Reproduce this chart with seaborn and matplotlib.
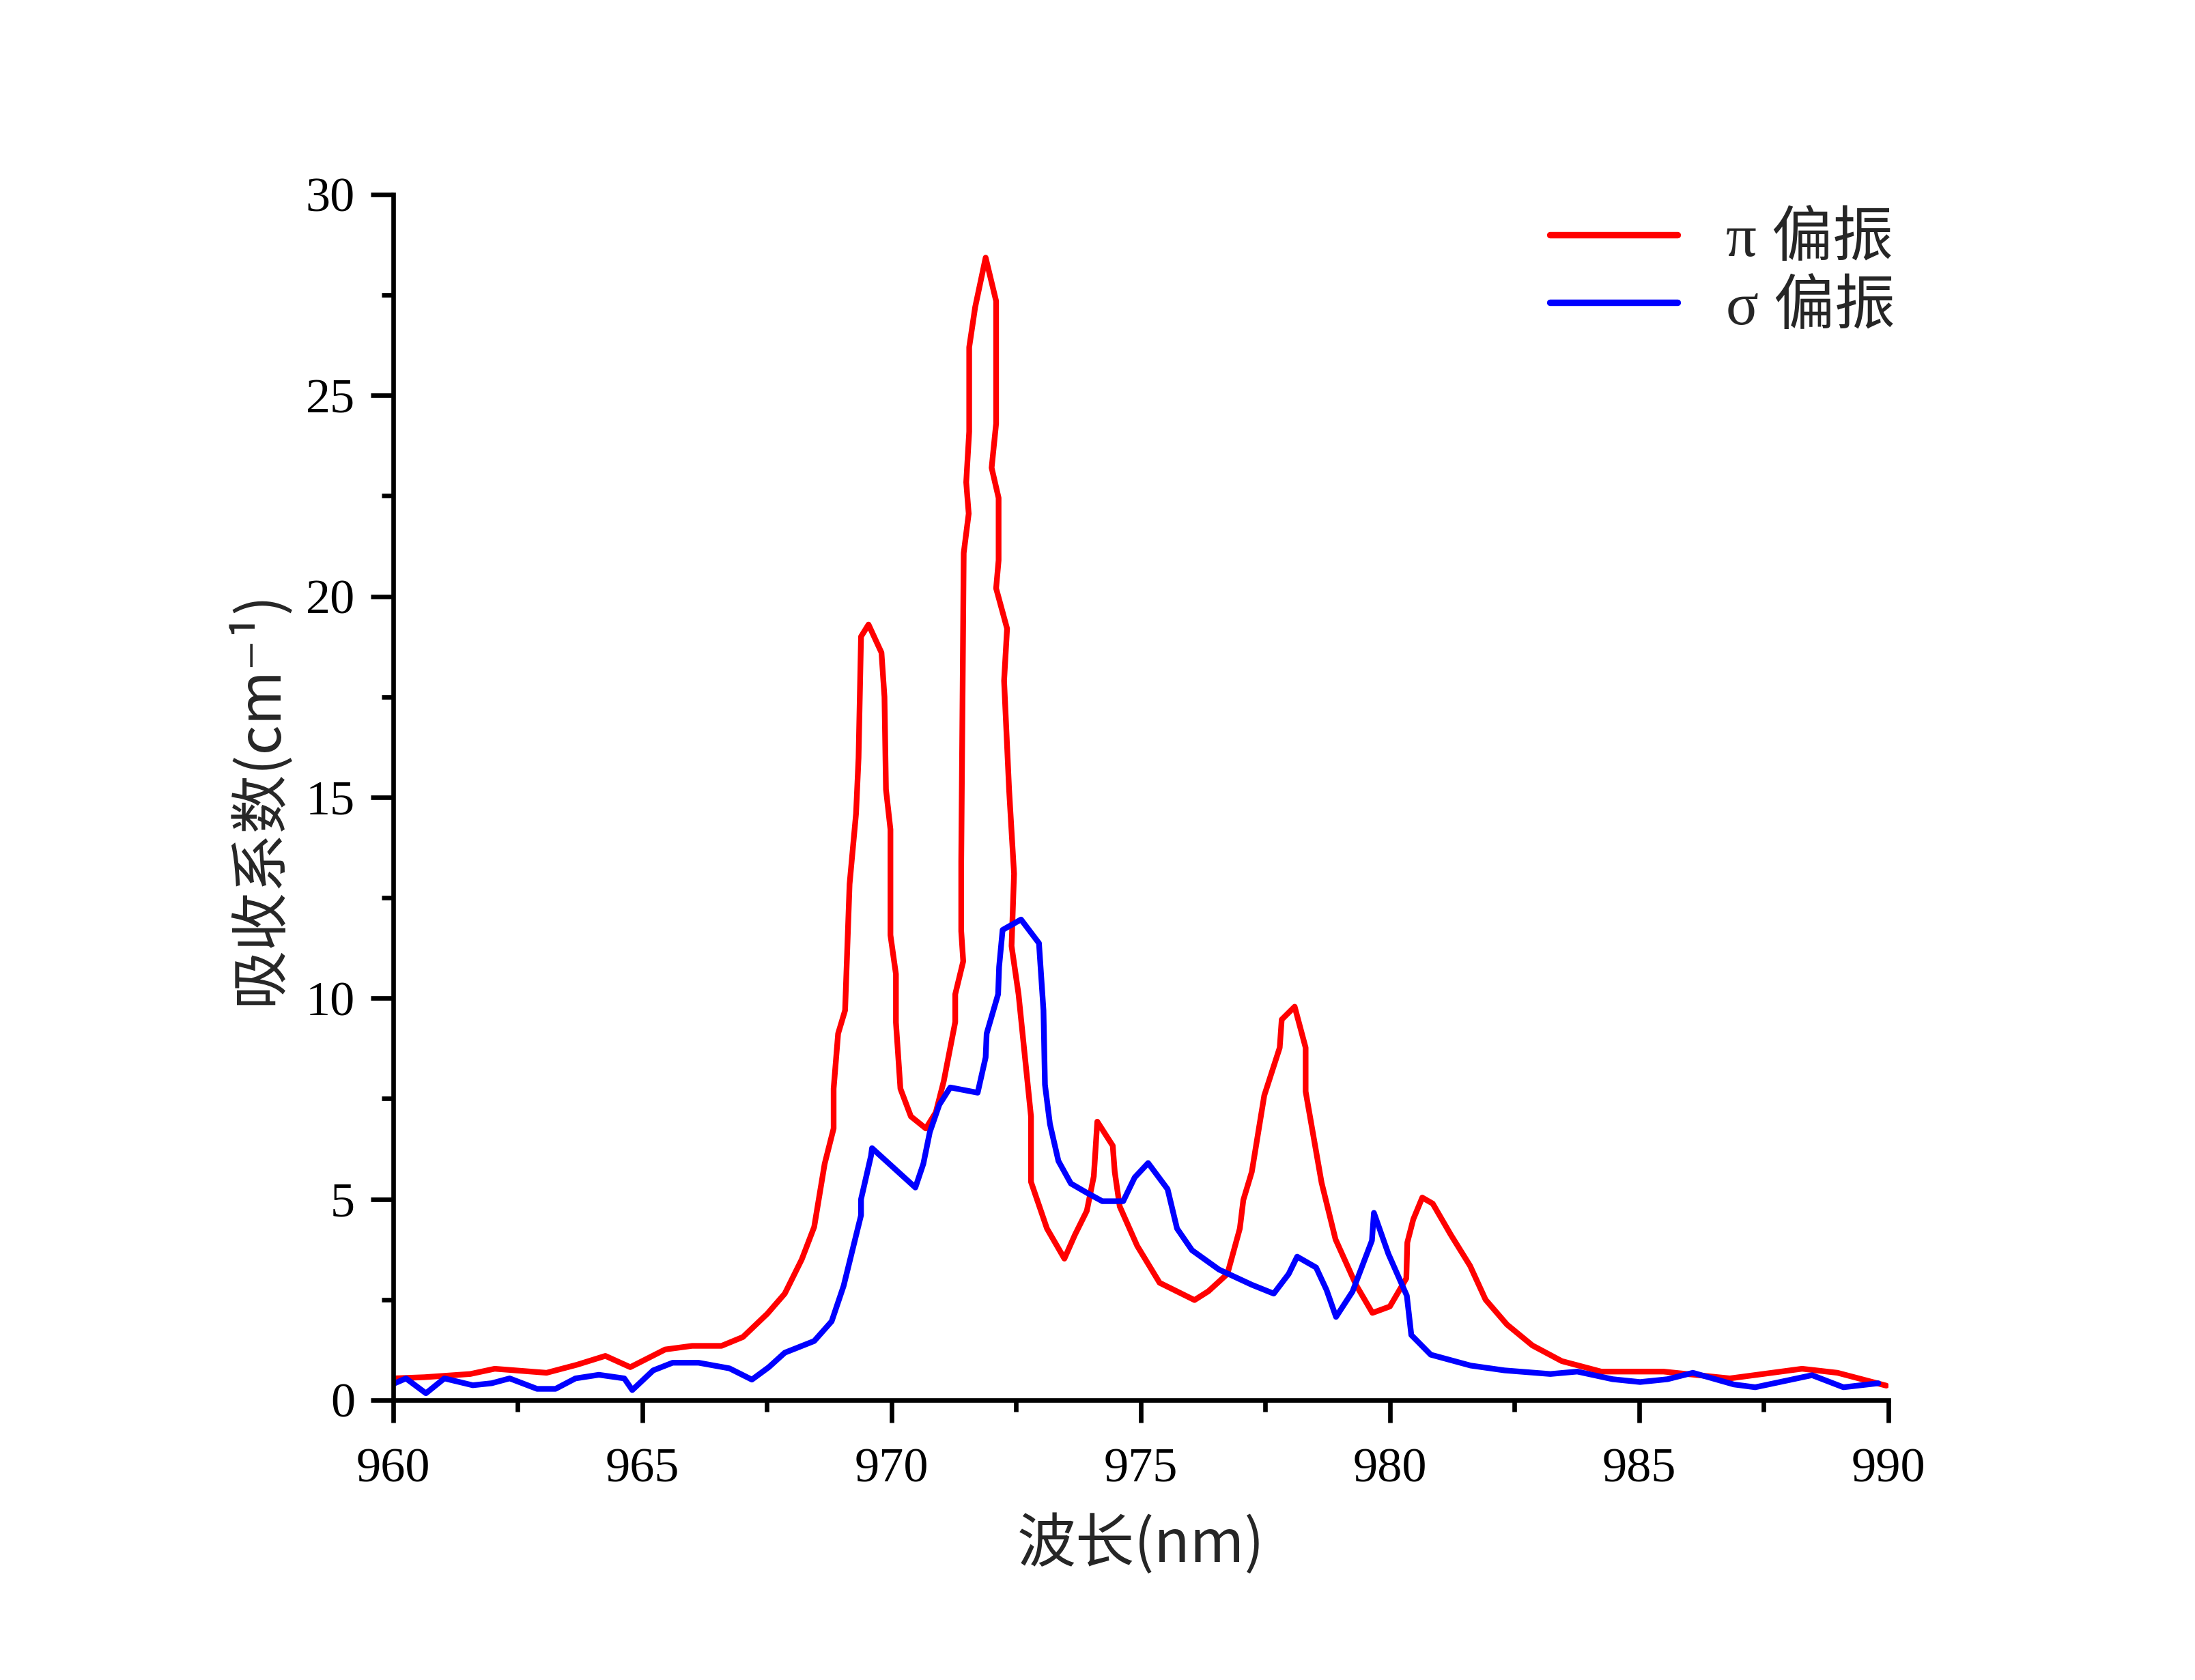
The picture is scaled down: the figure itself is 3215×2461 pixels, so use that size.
import matplotlib
matplotlib.use("Agg")
import matplotlib.pyplot as plt
import seaborn as sns
import pandas as pd
from matplotlib.ticker import MultipleLocator

# ---- data ----
pi_x = [960.00, 960.63, 961.55, 962.04, 963.08, 963.69, 964.26, 964.76, 965.46, 966.00,
        966.59, 967.02, 967.51, 967.86, 968.20, 968.45, 968.66, 968.84, 968.84, 968.93,
        969.07, 969.16, 969.29, 969.34, 969.39, 969.54, 969.80, 969.86, 969.89, 969.98,
        969.98, 970.09, 970.09, 970.18, 970.39, 970.69, 970.89, 971.05, 971.28, 971.28,
        971.44, 971.40, 971.40, 971.45, 971.55, 971.50, 971.56, 971.56, 971.68, 971.89,
        972.10, 972.10, 972.01, 972.15, 972.15, 972.10, 972.32, 972.26, 972.36, 972.46,
        972.41, 972.55, 972.80, 972.80, 973.12, 973.47, 973.68, 973.92, 974.06, 974.13,
        974.44, 974.48, 974.58, 974.93, 975.38, 976.08, 976.36, 976.74, 976.99, 977.06,
        977.23, 977.48, 977.79, 977.83, 978.09, 978.31, 978.31, 978.63, 978.91, 979.32,
        979.65, 980.00, 980.33, 980.35, 980.47, 980.65, 980.86, 981.22, 981.61, 981.92,
        982.35, 982.86, 983.45, 984.24, 985.49, 986.82, 988.27, 988.98, 989.96]
pi_y = [0.54, 0.57, 0.65, 0.78, 0.68, 0.88, 1.10, 0.82, 1.26, 1.35,
        1.35, 1.57, 2.15, 2.65, 3.50, 4.31, 5.88, 6.76, 7.75, 9.12,
        9.70, 12.84, 14.60, 15.98, 19.00, 19.30, 18.60, 17.50, 15.20, 14.20,
        11.57, 10.60, 9.40, 7.75, 7.06, 6.76, 7.16, 7.94, 9.41, 10.10,
        10.92, 11.67, 13.40, 21.08, 22.06, 22.84, 24.10, 26.20, 27.20, 28.43,
        27.35, 24.30, 23.20, 22.45, 20.90, 20.20, 19.20, 17.90, 15.20, 13.10,
        11.30, 10.10, 7.06, 5.43, 4.27, 3.52, 4.11, 4.71, 5.57, 6.93,
        6.33, 5.68, 4.82, 3.84, 2.92, 2.49, 2.71, 3.14, 4.27, 4.98,
        5.68, 7.58, 8.77, 9.47, 9.79, 8.77, 7.68, 5.41, 4.00, 2.87,
        2.17, 2.33, 3.03, 3.92, 4.50, 5.04, 4.89, 4.12, 3.34, 2.50,
        1.88, 1.36, 0.97, 0.71, 0.71, 0.54, 0.78, 0.68, 0.36]

sigma_x = [960.00, 960.26, 960.66, 961.03, 961.60, 961.98, 962.34, 962.89, 963.26, 963.66,
           964.13, 964.64, 964.80, 965.22, 965.61, 966.13, 966.75, 967.20, 967.54, 967.86,
           968.45, 968.80, 969.04, 969.39, 969.39, 969.59, 969.61, 970.48, 970.64, 970.77,
           970.96, 971.18, 971.73, 971.89, 971.91, 972.14, 972.16, 972.23, 972.60, 972.96,
           973.05, 973.08, 973.18, 973.35, 973.60, 973.92, 974.23, 974.65, 974.88, 975.15,
           975.54, 975.73, 976.03, 976.57, 977.23, 977.67, 977.97, 978.14, 978.52, 978.73,
           978.92, 979.25, 979.64, 979.68, 979.97, 980.34, 980.43, 980.82, 981.62, 982.30,
           983.22, 983.76, 984.47, 985.02, 985.57, 986.08, 986.90, 987.33, 988.47, 989.10,
           989.80]
sigma_y = [0.40, 0.54, 0.17, 0.54, 0.37, 0.42, 0.54, 0.28, 0.28, 0.54,
           0.63, 0.54, 0.25, 0.74, 0.93, 0.93, 0.79, 0.51, 0.82, 1.18,
           1.47, 1.96, 2.84, 4.60, 5.00, 6.08, 6.27, 5.29, 5.88, 6.67,
           7.35, 7.78, 7.65, 8.53, 9.12, 10.10, 10.78, 11.70, 11.96, 11.37,
           9.70, 7.85, 6.87, 5.95, 5.39, 5.16, 4.95, 4.95, 5.54, 5.90,
           5.25, 4.27, 3.73, 3.25, 2.87, 2.65, 3.14, 3.57, 3.30, 2.74,
           2.07, 2.70, 3.97, 4.66, 3.64, 2.60, 1.62, 1.13, 0.86, 0.74,
           0.65, 0.71, 0.52, 0.45, 0.52, 0.68, 0.39, 0.32, 0.62, 0.32,
           0.42]

series_labels = ["π 偏振", "σ 偏振"]
series_colors = ["#FF0000", "#0000FF"]
x_ticks = [960, 965, 970, 975, 980, 985, 990]
y_ticks = [0, 5, 10, 15, 20, 25, 30]
x_label = "波长(nm)"
y_label = "吸收系数(cm⁻¹)"

# ---- plot ----
sns.set_theme(style="ticks")
plt.rcParams['font.family'] = ['Liberation Serif', 'Noto Sans CJK SC', 'DejaVu Sans']
plt.rcParams['axes.unicode_minus'] = False

fig = plt.figure(figsize=(16.08, 12.305), dpi=200)
ax = fig.add_axes([0.179, 0.1666, 0.681, 0.7176])

df_pi = pd.DataFrame({"x": pi_x, "y": pi_y})
df_sg = pd.DataFrame({"x": sigma_x, "y": sigma_y})
sns.lineplot(data=df_pi, x="x", y="y", sort=False, estimator=None, ax=ax,
             color=series_colors[0], linewidth=3.0, label=series_labels[0])
sns.lineplot(data=df_sg, x="x", y="y", sort=False, estimator=None, ax=ax,
             color=series_colors[1], linewidth=3.0, label=series_labels[1])

ax.set_xlim(960, 990)
ax.set_ylim(0, 30)
ax.set_xticks(x_ticks)
ax.set_yticks(y_ticks)
ax.xaxis.set_minor_locator(MultipleLocator(2.5))
ax.yaxis.set_minor_locator(MultipleLocator(2.5))

for s in ["top", "right"]:
    ax.spines[s].set_visible(False)
for s in ["left", "bottom"]:
    ax.spines[s].set_linewidth(2.4)
    ax.spines[s].set_color("black")

ax.tick_params(which="major", direction="out", length=12, width=2.4,
               labelsize=26, colors="black")
ax.tick_params(axis="x", which="major", pad=13)
ax.tick_params(axis="y", which="major", pad=8)
ax.tick_params(which="minor", direction="out", length=6, width=2.4, colors="black")
for lab in ax.get_xticklabels() + ax.get_yticklabels():
    lab.set_family(['Liberation Serif', 'DejaVu Serif'])

ax.set_xlabel(x_label, fontsize=31, family=['Noto Sans CJK SC', 'DejaVu Sans'], labelpad=12)
ax.set_ylabel(y_label, fontsize=31, family=['Noto Sans CJK SC', 'DejaVu Sans'], labelpad=8)

leg = ax.legend(loc="upper right", bbox_to_anchor=(1.041, 1.03), frameon=False,
                prop={'family': ['Liberation Serif', 'Noto Sans CJK SC'], 'size': 32},
                handlelength=2.1, handletextpad=0.8, labelspacing=0.2)
for line in leg.get_lines():
    line.set_linewidth(3.4)

ax.grid(False)
fig.savefig("out.png", dpi=200, facecolor="white")
